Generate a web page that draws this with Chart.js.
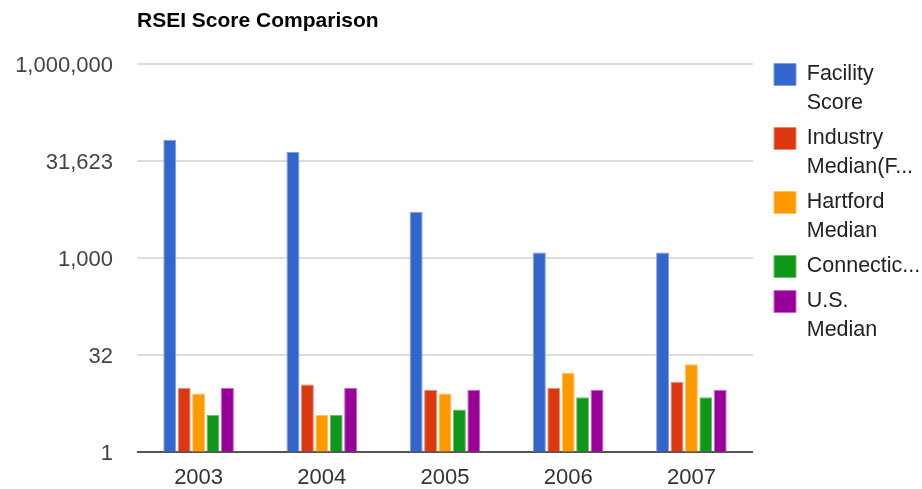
<!DOCTYPE html>
<html>
<head>
<meta charset="utf-8">
<script src="https://cdn.jsdelivr.net/npm/chart.js@4.4.1/dist/chart.umd.min.js"></script>
<style>
    html, body { margin: 0; padding: 0; background: #ffffff; }
    #wrap { width: 922px; height: 489px; position: relative; }
</style>
</head>
<body>
<div id="wrap"><canvas id="rseiChart"></canvas></div>
<script>
const years = ["2003", "2004", "2005", "2006", "2007"];

const facilityScore = [67000, 43400, 5170, 1210, 1210];
const industryMedian = [9.7, 11, 9.1, 9.7, 12];
const hartfordMedian = [8, 3.7, 8, 16.5, 22.7];
const connecticutMedian = [3.7, 3.7, 4.5, 7, 7];
const usMedian = [9.7, 9.7, 9.1, 9.1, 9.1];

const seriesLabels = [
    ["Facility", "Score"],
    ["Industry", "Median(F..."],
    ["Hartford", "Median"],
    ["Connectic..."],
    ["U.S.", "Median"]
];

const tickValues = [1, 31.62, 1000, 31623, 1000000];
const tickLabels = ["1", "32", "1,000", "31,623", "1,000,000"];

const fontFamily = "'Liberation Sans', Arial, sans-serif";

function series(index, values, color, border) {
    return {
        label: seriesLabels[index].join(" "),
        legendText: seriesLabels[index],
        data: values,
        backgroundColor: color,
        borderColor: border,
        borderWidth: 1,
        barPercentage: 0.9,
        categoryPercentage: 0.585
    };
}

const canvas = document.getElementById("rseiChart");

new Chart(canvas, {
    type: "bar",
    data: {
        labels: years,
        datasets: [
            series(0, facilityScore, "#3366cc", "#7f9fe0"),
            series(1, industryMedian, "#dc3912", "#ec8a70"),
            series(2, hartfordMedian, "#ff9900", "#ffc266"),
            series(3, connecticutMedian, "#109618", "#6cc070"),
            series(4, usMedian, "#990099", "#c766c7")
        ]
    },
    options: {
        responsive: true,
        maintainAspectRatio: false,
        animation: false,
        layout: { padding: 0 },
        plugins: {
            title: {
                display: true,
                text: "RSEI Score Comparison",
                align: "start",
                fullSize: false,
                color: "#000000",
                font: { family: fontFamily, size: 21, weight: "bold", lineHeight: "24px" },
                padding: { top: 9, bottom: 31 }
            },
            legend: {
                position: "right",
                align: "start",
                maxWidth: 154,
                title: {
                    display: true,
                    text: "",
                    font: { size: 10, lineHeight: "12px" },
                    padding: { top: 45.5, bottom: 0 }
                },
                labels: {
                    boxWidth: 22,
                    boxHeight: 22,
                    padding: 6,
                    color: "#222222",
                    font: { family: fontFamily, size: 21.5, lineHeight: "29px" },
                    generateLabels(chart) {
                        return chart.data.datasets.map((ds, i) => ({
                            text: ds.legendText,
                            fillStyle: ds.backgroundColor,
                            strokeStyle: ds.borderColor,
                            lineWidth: 1,
                            fontColor: "#222222",
                            hidden: false,
                            datasetIndex: i
                        }));
                    }
                }
            },
            tooltip: { enabled: false }
        },
        scales: {
            x: {
                grid: { display: false, drawTicks: false },
                border: { display: false },
                ticks: {
                    color: "#333333",
                    padding: 13,
                    font: { family: fontFamily, size: 22 }
                },
                afterFit(scale) { scale.height = 36; }
            },
            y: {
                type: "logarithmic",
                min: 1,
                max: 1000000,
                border: { display: false },
                grid: {
                    drawTicks: false,
                    color: ctx => ctx.index === 0 ? "#555555" : "#dddddd",
                    lineWidth: 2
                },
                ticks: {
                    color: "#444444",
                    padding: 24,
                    labelOffset: 2,
                    font: { family: fontFamily, size: 22 },
                    callback: (value, index) => tickLabels[index]
                },
                afterBuildTicks(scale) {
                    scale.ticks = tickValues.map(v => ({ value: v }));
                },
                afterFit(scale) { scale.width = 137; }
            },
            yPad: {
                type: "linear",
                position: "right",
                display: true,
                grid: { display: false, drawTicks: false },
                border: { display: false },
                ticks: { display: false },
                afterFit(scale) { scale.width = 15; }
            }
        }
    }
});
</script>
</body>
</html>
